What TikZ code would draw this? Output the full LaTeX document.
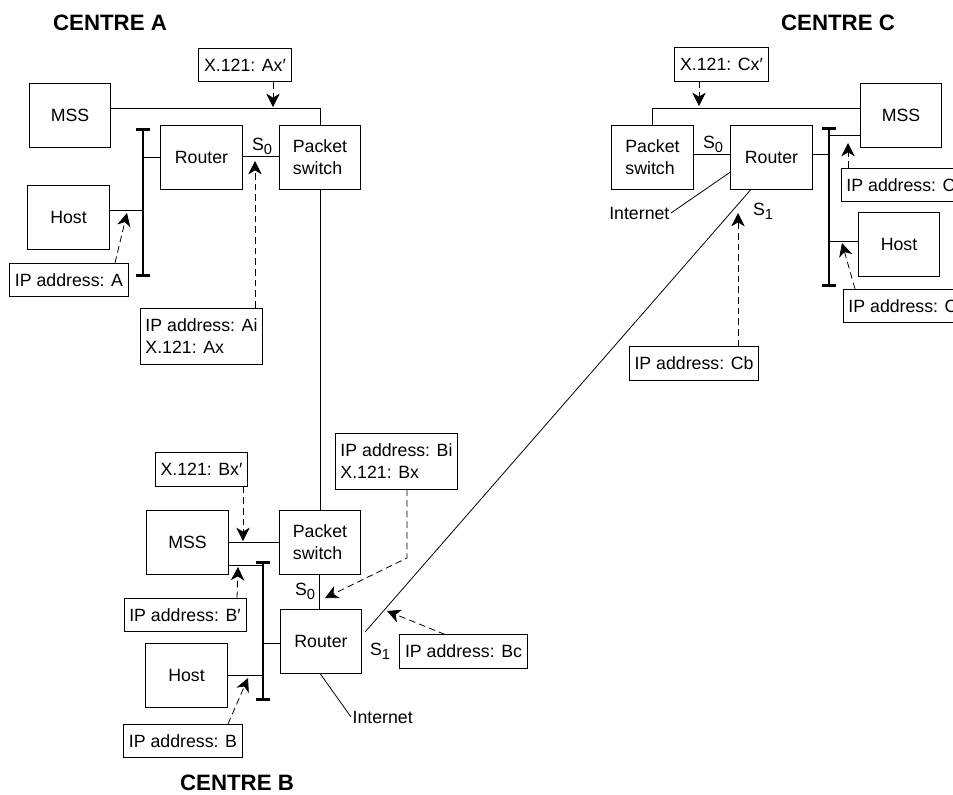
\documentclass[tikz,border=0pt]{standalone}
\usepackage{fontspec}
\setmainfont{Liberation Sans}
\usetikzlibrary{arrows.meta,calc}
\newcommand{\sub}[1]{\raisebox{-0.45ex}{\fontsize{11}{11}\selectfont #1}}
\begin{document}
\begin{tikzpicture}[
  x=0.75pt, y=-0.75pt,
  every node/.style={font=\fontsize{13.3}{16.5}\selectfont},
  unit/.style={draw, line width=0.6pt, minimum width=61pt, minimum height=48pt, align=left, inner sep=1pt},
  addr/.style={draw, line width=0.6pt, minimum height=25pt, inner xsep=4pt, inner ysep=2pt, align=left},
  title/.style={font=\fontsize{16.7}{20}\selectfont\bfseries},
  link/.style={line width=0.6pt},
  bus/.style={line width=2.2pt, {Bar[width=10.5pt]}-{Bar[width=10.5pt]}},
  pointer/.style={line width=0.6pt, dash pattern=on 5pt off 3pt, -{Stealth[length=10pt,width=10pt,inset=3pt]}},
  port/.style={inner sep=1pt}
]
\useasboundingbox (0,0) rectangle (953,794);
\clip (0,0) rectangle (953,794);

\node[title] (cA) at (110,23) {CENTRE A};
\node[title] (cC) at (838,23) {CENTRE C};
\node[title] (cB) at (237,783) {CENTRE B};

\node[unit] (mssA) at (70,115) {MSS};
\node[unit] (rtrA) at (201.5,157) {Router};
\node[unit] (psA) at (320,157) {Packet\\switch};
\node[unit] (hostA) at (68.5,217.5) {Host};

\node[unit] (mssB) at (187.5,542) {MSS};
\node[unit] (psB) at (320,542) {Packet\\switch};
\node[unit] (rtrB) at (321,641) {Router};
\node[unit] (hostB) at (186.5,675) {Host};

\node[unit] (psC) at (652.5,157) {Packet\\switch};
\node[unit] (rtrC) at (771.5,157) {Router};
\node[unit] (mssC) at (901,115) {MSS};
\node[unit] (hostC) at (899,244) {Host};

\coordinate (busAt) at (143,128);
\coordinate (busAb) at (143,277);
\coordinate (busBt) at (263,561);
\coordinate (busBb) at (263,701);
\coordinate (busCt) at (829,127);
\coordinate (busCb) at (829,287);
\draw[bus] (busAt) -- (busAb);
\draw[bus] (busBt) -- (busBb);
\draw[bus] (busCt) -- (busCb);

\draw[link] ($(mssA.east)+(0,-7)$) -| (psA.north);
\draw[link] ($(rtrA.east)+(0,-1)$) -- ($(psA.west)+(0,-1)$);
\draw[link] (rtrA.west) -- (rtrA.west -| busAt);
\draw[link] ($(hostA.east)+(0,-7.5)$) coordinate (hA) -- (hA -| busAt);
\draw[link] (psA.south) -- (psB.north);

\draw[link] (mssB.east) -- (psB.west);
\draw[link] ($(mssB.east)+(0,23)$) coordinate (mB) -- (mB -| busBt);
\draw[link] ($(rtrB.west)+(0,2)$) coordinate (rB) -- (rB -| busBt);
\draw[link] (hostB.east) -- (hostB.east -| busBt);
\draw[link] ($(psB.south)+(-1,0)$) -- ($(rtrB.north)+(-2,0)$);

\draw[link] ($(mssC.west)+(0,-7)$) -| (psC.north);
\draw[link] ($(psC.east)+(0,-3)$) -- ($(rtrC.west)+(0,-3)$);
\draw[link] ($(rtrC.east)+(0,-3)$) coordinate (rC) -- (rC -| busCt);
\draw[link] ($(mssC.west)+(0,20)$) coordinate (mC) -- (mC -| busCt);
\draw[link] ($(hostC.west)+(0,-3)$) coordinate (hC) -- (hC -| busCt);

\draw[link] ($(rtrB.east)+(3,-9)$) -- ($(rtrC.south)+(-20.5,0)$);

\node[anchor=west, inner sep=1pt] (netB) at (351,717) {Internet};
\node[anchor=east, inner sep=1pt] (netC) at (671,213) {Internet};
\draw[link] ($(rtrB.south)+(-1,0)$) -- (netB.west);
\draw[link] ($(rtrC.west)+(0,15)$) -- (netC.east);

\node[port] (s0A) at (262,146) {S\sub{0}};
\node[port] (s0B) at (305,591) {S\sub{0}};
\node[port] (s1B) at (380,651) {S\sub{1}};
\node[port] (s0C) at (713,144) {S\sub{0}};
\node[port] (s1C) at (763,211) {S\sub{1}};

\node[addr] (x121A) at (245,65) {X.121: Ax′};
\node[addr] (ipA) at (69,280) {IP address: A};
\node[addr, minimum height=42pt] (ipAi) at (201.5,336) {IP address: Ai\\X.121: Ax};
\node[addr] (x121B) at (201.5,469.5) {X.121: Bx′};
\node[addr] (ipBp) at (185,615) {IP address: B′};
\node[addr] (ipB) at (183,741) {IP address: B};
\node[addr, minimum height=42pt] (ipBi) at (396.5,461) {IP address: Bi\\X.121: Bx};
\node[addr] (ipBc) at (463.5,651.5) {IP address: Bc};
\node[addr] (x121C) at (721.5,64.5) {X.121: Cx′};
\node[addr] (ipCb) at (694,363.5) {IP address: Cb};
\node[addr] (ipCm) at (901,185) {IP address: C};
\node[addr] (ipCh) at (903,306) {IP address: C};

\coordinate (tAx) at (273,107);
\coordinate (tA) at (127,213);
\coordinate (tAi) at (255,161);
\coordinate (tBx) at (243,541);
\coordinate (tBp) at (238,567);
\coordinate (tB) at (248,678);
\coordinate (kBi) at (407,558);
\coordinate (tBi) at (325,598);
\coordinate (tBc) at (387,611);
\coordinate (tCx) at (699,106);
\coordinate (tCb) at (738,213);
\coordinate (tCm) at (848,143);
\coordinate (tCh) at (842,243);

\draw[pointer] (x121A.south -| tAx) -- (tAx);
\draw[pointer] ($(ipA.north)+(46,0)$) -- (tA);
\draw[pointer] (ipAi.north -| tAi) -- (tAi);
\draw[pointer] (x121B.south -| tBx) -- (tBx);
\draw[pointer] ($(ipBp.north)+(52,0)$) -- (tBp);
\draw[pointer] ($(ipB.north)+(45,0)$) -- (tB);
\draw[pointer] (ipBi.south -| kBi) -- (kBi) -- (tBi);
\draw[pointer] ($(ipBc.north)+(-18.5,0)$) -- (tBc);
\draw[pointer] (x121C.south -| tCx) -- (tCx);
\draw[pointer] (ipCb.north -| tCb) -- (tCb);
\draw[pointer] (ipCm.north -| tCm) -- (tCm);
\draw[pointer] ($(ipCh.north)+(-48,0)$) -- (tCh);
\end{tikzpicture}
\end{document}
